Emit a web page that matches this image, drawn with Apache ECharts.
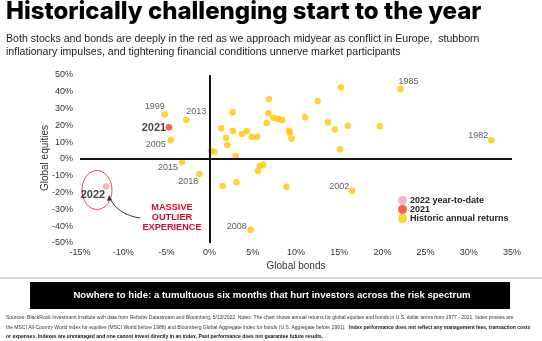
<!DOCTYPE html>
<html><head><meta charset="utf-8">
<script src="https://cdn.jsdelivr.net/npm/echarts@6/dist/echarts.min.js"></script>
<style>html,body{margin:0;padding:0;background:#fff}#c{width:542px;height:341px}</style>
</head><body><div id="c"></div>
<script>
// ---- data ----
const histBonds    = [-5.2,-2.7,-4.5,-3.2,-1.2,0.15,0.54,1.35,1.9,2.05,3.0,2.67,2.7,3.74,4.29,4.87,5.5,6.87,6.8,6.6,7.38,7.88,8.38,9.2,9.27,9.47,6.2,5.8,5.6,1.5,3.1,8.9,15.2,22.1,12.5,11.05,13.7,14.5,16.0,19.7,15.1,32.6,16.5,4.75];
const histEquities = [26.6,23.4,11.3,-2.0,-8.9,4.9,4.3,18.3,12.7,8.3,2.0,27.8,16.6,14.9,16.7,13.3,13.3,35.5,27.2,21.4,24.6,24.0,23.2,16.8,15.7,12.1,-3.4,-4.2,-7.1,-16.1,-13.9,-16.5,42.7,41.7,34.5,24.8,21.8,17.6,19.8,19.5,5.8,11.1,-19.0,-42.1];
const histYears    = ['1999','2013','2005','2015','2018','','','','','','','','','','','','','','','','','','','','','','','','','','','','','1985','','','','','','','','1982','2002','2008'];
const y2021 = {bonds:-4.7, equities:18.9, label:'2021'};
const y2022 = {bonds:-12.0, equities:-16.3, label:'2022'};
const xTicks = [-15,-10,-5,0,5,10,15,20,25,30,35];
const yTicks = [-50,-40,-30,-20,-10,0,10,20,30,40,50];
const legendNames = ['2022 year-to-date','2021','Historic annual returns'];

// ---- styles ----
const labelOffsets = {'1999':[-10,-8],'2013':[10,-8],'2005':[-15,4],'2015':[-14,5],'2018':[-11,8],'1985':[8,-7],'1982':[-13,-5],'2002':[-13,-4],'2008':[-14,-3]};
const FONT = 'Liberation Sans';
const YEL = '#FFC700', RED = '#F23C1E', PINK = '#F5A3B5';

const chart = echarts.init(document.getElementById('c'), null, {renderer:'canvas'});
const histData = histBonds.map((b,i)=>{
  const yr = histYears[i];
  const item = {value:[b,histEquities[i]]};
  if (yr) item.label = {show:true, formatter:yr, position:'inside', offset:labelOffsets[yr], fontSize:9, color:'#333', fontFamily:FONT};
  return item;
});

chart.setOption({
  animation:false,
  grid:{left:80,right:30,top:75,bottom:98},
  xAxis:{type:'value',min:xTicks[0],max:xTicks[xTicks.length-1],interval:5,
    axisLine:{show:false},axisTick:{show:false},splitLine:{show:false},
    axisLabel:{formatter:v=>v+'%',fontSize:9,color:'#333',fontFamily:FONT,margin:5},
    name:'Global bonds',nameLocation:'middle',nameGap:18,nameTextStyle:{fontSize:10,color:'#333',fontFamily:FONT}},
  yAxis:{type:'value',min:yTicks[0],max:yTicks[yTicks.length-1],interval:10,
    axisLine:{show:false},axisTick:{show:false},splitLine:{show:false},
    axisLabel:{formatter:v=>v+'%',fontSize:9,color:'#333',fontFamily:FONT,margin:7}},
  legend:{show:true,orient:'vertical',left:393,top:191,itemWidth:9,itemHeight:9,itemGap:0,icon:'circle',
    textStyle:{fontSize:9,fontWeight:'bold',color:'#222',fontFamily:FONT,padding:[0,0,0,-2]},
    data:legendNames},
  series:[
    {name:legendNames[2],type:'scatter',symbolSize:6.5,itemStyle:{color:YEL},data:histData,z:3,
      markLine:{silent:true,symbol:'none',label:{show:false},lineStyle:{color:'#111',width:2,type:'solid'},
        data:[{xAxis:0},{yAxis:0}]}},
    {name:legendNames[1],type:'scatter',symbolSize:6.5,itemStyle:{color:RED},z:4,
      data:[{value:[y2021.bonds,y2021.equities],label:{show:true,formatter:y2021.label,position:'inside',offset:[-15,1],fontSize:11,fontWeight:'bold',color:'#111',fontFamily:FONT}}]},
    {name:legendNames[0],type:'scatter',symbolSize:6.5,itemStyle:{color:PINK},z:4,
      data:[{value:[y2022.bonds,y2022.equities],label:{show:true,formatter:y2022.label,position:'inside',offset:[-13,9],fontSize:11,fontWeight:'bold',color:'#111',fontFamily:FONT}}]}
  ],
  graphic:[
    {type:'text',left:6,top:0,style:{text:'Historically challenging start to the year',font:'800 24px "Inter"',fill:'#000'}},
    {type:'text',left:6,top:33,style:{text:'Both stocks and bonds are deeply in the red as we approach midyear as conflict in Europe,  stubborn\ninflationary impulses, and tightening financial conditions unnerve market participants',font:'10.6px "Liberation Sans"',fill:'#222',lineHeight:13}},
    {type:'text',x:45,y:158,rotation:Math.PI/2,style:{text:'Global equities',font:'10px "Liberation Sans"',fill:'#333',align:'center',verticalAlign:'middle'}},
    {type:'ellipse',shape:{cx:97,cy:190,rx:15,ry:19.5},style:{fill:'none',stroke:'#E0505F',lineWidth:1}},
    {type:'bezierCurve',shape:{x1:140,y1:218,cpx1:125,cpy1:216,cpx2:114,cpy2:208,x2:110,y2:198},style:{stroke:'#333',lineWidth:1,fill:'none'}},
    {type:'polygon',shape:{points:[[109,195],[107,201],[112,200]]},style:{fill:'#333'}},
    {type:'text',x:172,y:217,style:{text:'MASSIVE\nOUTLIER\nEXPERIENCE',font:'bold 9.2px "Liberation Sans"',fill:'#C8102E',align:'center',verticalAlign:'middle',lineHeight:10}},
    {type:'line',shape:{x1:0,y1:278,x2:542,y2:278},style:{stroke:'#aaa',lineWidth:1}},
    {type:'rect',shape:{x:30,y:282,width:480,height:27},style:{fill:'#000'}},
    {type:'text',x:272,y:295.5,style:{text:'Nowhere to hide: a tumultuous six months that hurt investors across the risk spectrum',font:'bold 9.6px "Liberation Sans"',fill:'#fff',align:'center',verticalAlign:'middle'}},
    {type:'text',left:6,top:315,style:{
      text:'{n|Sources: BlackRock Investment Institute with data from Refinitiv Datastream and Bloomberg, 5/13/2022. Notes: The chart shows annual returns for global equities and bonds in U.S. dollar terms from 1977 - 2021. Index proxies are}\n{n|the MSCI All-Country World index for equities (MSCI World before 1988) and Bloomberg Global Aggregate index for bonds (U.S. Aggregate before 1991).} {b|Index performance does not reflect any management fees, transaction costs}\n{b|or expenses. Indexes are unmanaged and one cannot invest directly in an index. Past performance does not guarantee future results.}',
      rich:{n:{fontSize:5,fontFamily:FONT,fill:'#333',lineHeight:7.5},b:{fontSize:5,fontWeight:'bold',fontFamily:FONT,fill:'#111',lineHeight:7.5}}}}
  ]
});
</script></body></html>
